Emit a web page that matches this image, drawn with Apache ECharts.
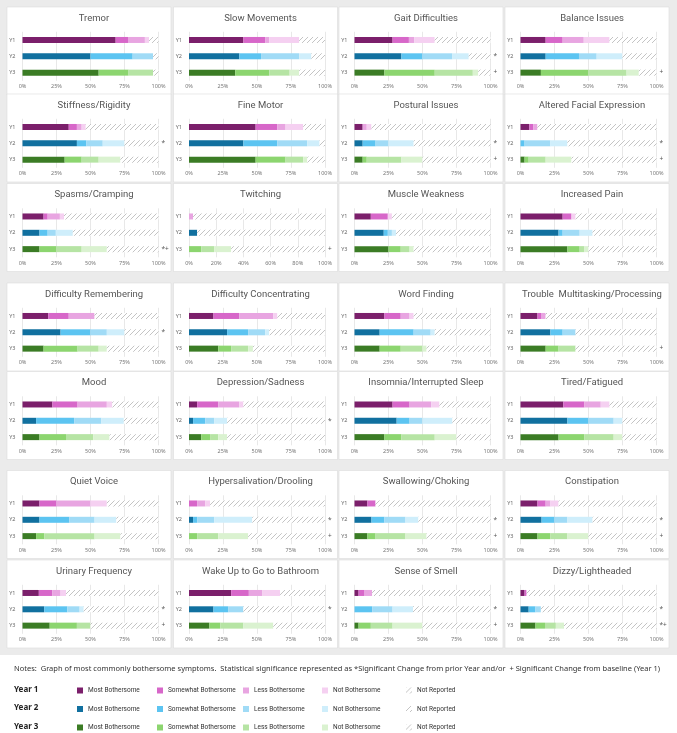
<!DOCTYPE html>
<html lang="en">
<head>
<meta charset="UTF-8">
<title>Bothersome Symptoms</title>
<script src="https://cdn.jsdelivr.net/npm/echarts@6/dist/echarts.min.js"></script>
<style>
    html, body { margin: 0; padding: 0; background: #fff; }
    #main { width: 677px; height: 733px; }
</style>
</head>
<body>
<div id="main"></div>
<script type="text/javascript">
    // symptoms, in reading order (4 per row)
    var symptoms = ['Tremor', 'Slow Movements', 'Gait Difficulties', 'Balance Issues',
        'Stiffness/Rigidity', 'Fine Motor', 'Postural Issues', 'Altered Facial Expression',
        'Spasms/Cramping', 'Twitching', 'Muscle Weakness', 'Increased Pain',
        'Difficulty Remembering', 'Difficulty Concentrating', 'Word Finding', 'Trouble  Multitasking/Processing',
        'Mood', 'Depression/Sadness', 'Insomnia/Interrupted Sleep', 'Tired/Fatigued',
        'Quiet Voice', 'Hypersalivation/Drooling', 'Swallowing/Choking', 'Constipation',
        'Urinary Frequency', 'Wake Up to Go to Bathroom', 'Sense of Smell', 'Dizzy/Lightheaded'];

    var levels = ['Most Bothersome', 'Somewhat Bothersome', 'Less Bothersome', 'Not Bothersome', 'Not Reported'];

    // % Most / Somewhat / Less / Not bothersome (rest = not reported)
    var year1 = [[68.5, 9.5, 12, 3], [40, 16, 3, 22], [28, 12, 4, 15], [18.5, 12.5, 15.5, 19],
        [34, 6, 3.5, 3], [49, 16, 6, 13], [6, 0, 3, 3.5], [6.5, 3, 3, 0],
        [15.5, 3, 9, 3], [0, 0, 3, 0], [12, 12.5, 0, 3], [31, 6.5, 0, 3],
        [19, 15, 19, 0], [18, 19, 25, 3], [22, 12, 6.5, 3], [12.5, 3, 3, 0],
        [22, 18.5, 21.5, 4], [6, 15.5, 15.5, 3], [28, 12.5, 16, 6], [31.5, 15.5, 12, 6.5],
        [12.5, 12.5, 25, 12], [0, 6, 6, 3.5], [9.5, 6, 0, 0], [12.5, 6, 3.5, 6],
        [12, 10, 6, 4], [31, 13, 10, 13], [3, 4, 6, 0], [3, 1.5, 0, 0]];
    var year2 = [[50, 31, 15, 0], [37, 16, 28, 9], [34.5, 15.5, 22, 12], [18.5, 24.5, 13, 19],
        [40, 7, 12, 16], [40, 25, 22, 9], [6, 9.5, 9.5, 18.5], [0, 3, 19, 12.5],
        [12.5, 6, 6, 12.5], [6, 0, 0, 0], [21.5, 3, 3, 3], [28, 3, 12.5, 9.5],
        [28, 22, 12, 13], [28, 15.5, 12.5, 3], [18.5, 25, 12.5, 3], [22, 9, 9.5, 0],
        [10, 28, 20, 16.5], [3, 9, 6.5, 9.5], [31, 9.5, 9.5, 22], [34.5, 15.5, 18.5, 6.5],
        [12.5, 22, 18.5, 16], [3, 3, 12.5, 28], [12.5, 9.5, 15.5, 9.5], [15.5, 9.5, 9.5, 18.5],
        [16, 17, 9, 3], [18, 11, 11, 0], [0, 13, 15, 15], [6, 5, 4, 0]];
    var year3 = [[56, 22, 18, 0], [34, 25, 15, 7], [22, 37, 28, 4], [15, 35, 28, 9],
        [31, 12.5, 12.5, 16], [49, 22, 13, 3], [6, 3, 25.5, 15.5], [3, 3, 12.5, 19],
        [12.5, 12.5, 18.5, 18.5], [0, 9, 9.5, 12.5], [25, 9, 6.5, 3], [34.5, 9, 3.5, 3],
        [15.5, 25, 15.5, 6], [21.5, 9.5, 12.5, 3.5], [18.5, 15.5, 16, 3], [18.5, 9.5, 12.5, 0],
        [12.5, 19.5, 20, 12], [9, 6.5, 6, 6.5], [22, 12.5, 24.5, 16], [28, 19, 21.5, 6.5],
        [10, 6, 37, 19], [0, 6, 15.5, 22], [9.5, 6, 22, 15.5], [12.5, 9.5, 12.5, 15.5],
        [20, 20, 10, 0], [15, 8, 17, 22], [3, 9, 16, 22], [11, 7, 8, 6]];

    // significance markers for Y1, Y2, Y3
    var marks = [['', '', ''], ['', '', ''], ['', '*', '+'], ['', '', '+'],
        ['', '*', ''], ['', '', ''], ['', '*', '+'], ['', '*', '+'],
        ['', '', '*+'], ['', '', '+'], ['', '', ''], ['', '', ''],
        ['', '*', ''], ['', '', ''], ['', '', ''], ['', '', '+'],
        ['', '', ''], ['', '*', ''], ['', '', ''], ['', '', ''],
        ['', '', ''], ['', '*', '+'], ['', '*', '+'], ['', '*', '+'],
        ['', '*', '+'], ['', '*', ''], ['', '*', '+'], ['', '*', '*+']];

    var tickStep = symptoms.map(function (s) { return s === 'Twitching' ? 20 : 25 });
    var years = [year1, year2, year3];

    var palettes = [
        ['#7b1f6b', '#d767c9', '#e8a5e1', '#f5d0f1'],
        ['#11709f', '#5cc4f1', '#a0dbf6', '#cfeefb'],
        ['#3b7c25', '#8cd56f', '#b6e4a4', '#daf2d0']
    ];

    // hatch pattern for "Not Reported"
    var cv = document.createElement('canvas');
    cv.width = 5; cv.height = 5;
    var cx = cv.getContext('2d');
    cx.fillStyle = '#fff';
    cx.fillRect(0, 0, 5, 5);
    cx.strokeStyle = '#c4c4c4';
    cx.lineWidth = 1;
    cx.beginPath();
    cx.moveTo(0, 5); cx.lineTo(5, 0);
    cx.moveTo(-1, 1); cx.lineTo(1, -1);
    cx.moveTo(4, 6); cx.lineTo(6, 4);
    cx.stroke();
    var hatch = { image: cv, repeat: 'repeat' };

    // layout
    var panelX = [7, 173.5, 339, 505];
    var panelW = 164;
    var rowY1 = [40, 127, 216.5, 316, 404.5, 503.5, 593];
    var legendX = [77, 157, 243, 322, 406];

    var grids = [], xAxes = [], yAxes = [], titles = [], series = [], graphics = [];

    graphics.push({ type: 'rect', shape: { x: 0, y: 0, width: 677, height: 655 }, style: { fill: '#ebebeb' }, z: -10 });

    symptoms.forEach(function (name, i) {
        var row = Math.floor(i / 4), col = i % 4;
        var px = panelX[col];
        var yc = rowY1[row];
        graphics.push({
            type: 'rect', shape: { x: px, y: yc - 33, width: panelW, height: 88 },
            style: { fill: '#fff', stroke: '#dcdcdc', lineWidth: 0.6 }, z: -9
        });
        titles.push({
            text: name, left: px + panelW / 2, top: yc - 31.5, textAlign: 'center',
            textStyle: { fontSize: 9.5, fontWeight: 'normal', color: '#555', fontFamily: 'Roboto' }
        });
        grids.push({ left: px + 15.5, top: yc - 8.2, width: 136, height: 49 });
        xAxes.push({
            gridIndex: i, type: 'value', min: 0, max: 100, interval: tickStep[i],
            axisLine: { show: false }, axisTick: { show: false },
            splitLine: { lineStyle: { color: '#e2e2e2', width: 0.8 } },
            axisLabel: { formatter: '{value}%', fontSize: 5.5, color: '#777', margin: 3 }
        });
        yAxes.push({
            gridIndex: i, type: 'category', data: ['Y1', 'Y2', 'Y3'], inverse: true,
            axisLine: { show: false }, axisTick: { show: false },
            axisLabel: { fontSize: 5.5, color: '#666', margin: 7 }
        });
        years.forEach(function (yr, y) {
            var vals = yr[i].slice();
            var sum = vals.reduce(function (a, b) { return a + b }, 0);
            vals.push(Math.max(0, 100 - sum));
            vals.forEach(function (v, c) {
                var data = [0, 0, 0];
                data[y] = v;
                var item = data.map(function (d, k) {
                    if (k === y && c === 4 && marks[i][y]) {
                        return {
                            value: d, label: {
                                show: true, position: 'right', distance: 3, formatter: marks[i][y],
                                fontSize: 6.5, color: '#555'
                            }
                        };
                    }
                    return d;
                });
                series.push({
                    name: 'Y' + (y + 1) + '|' + levels[c], type: 'bar', stack: 's' + i,
                    xAxisIndex: i, yAxisIndex: i, barWidth: 6, data: item, silent: true,
                    itemStyle: { color: c === 4 ? hatch : palettes[y][c] }
                });
            });
        });
    });

    // notes and legend
    graphics.push({
        type: 'text', left: 14, top: 665, style: {
            text: 'Notes:  Graph of most commonly bothersome symptoms.  Statistical significance represented as *Significant Change from prior Year and/or  + Significant Change from baseline (Year 1)',
            fontSize: 7.5, fill: '#333', fontFamily: 'Noto Sans'
        }
    });
    var legends = [];
    [0, 1, 2].forEach(function (y) {
        var top = 686 + y * 18.5;
        graphics.push({
            type: 'text', left: 14, top: top - 0.5, style: {
                text: 'Year ' + (y + 1), fontSize: 8, fontWeight: 'bold', fill: '#222', fontFamily: 'Noto Sans'
            }
        });
        levels.forEach(function (l, c) {
            legends.push({
                top: top + 1, left: legendX[c], padding: 0, selectedMode: false, icon: 'rect',
                itemWidth: 6, itemHeight: 6,
                data: ['Y' + (y + 1) + '|' + l],
                formatter: function (n) { return n.split('|')[1] },
                textStyle: { fontSize: 6.5, color: '#333', fontFamily: 'Roboto' }
            });
        });
    });

    var option = {
        animation: false,
        backgroundColor: '#fff',
        textStyle: { fontFamily: 'Noto Sans' },
        title: titles,
        legend: legends,
        grid: grids,
        xAxis: xAxes,
        yAxis: yAxes,
        series: series,
        graphic: graphics
    };

    var myChart = echarts.init(document.getElementById('main'));
    myChart.setOption(option);
</script>
</body>
</html>
